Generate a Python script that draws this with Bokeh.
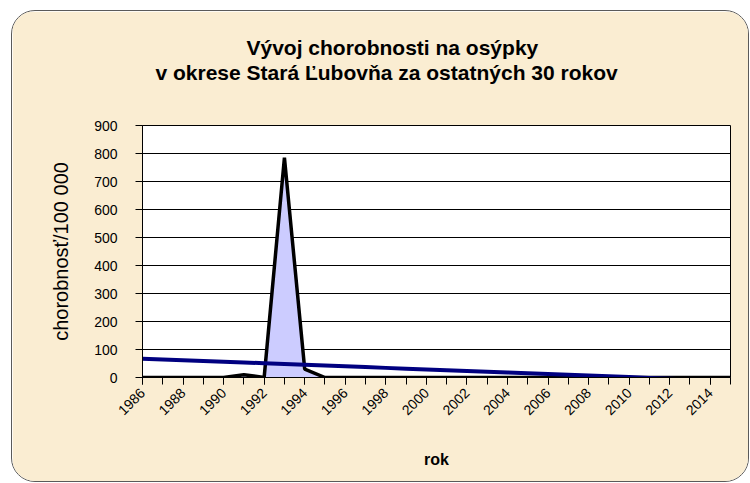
import numpy as np
from bokeh.plotting import figure
from bokeh.models import FixedTicker, Title, Range1d
from bokeh.embed import file_html
from bokeh.resources import INLINE

# ---- data ----
years = list(range(1986, 2016))
incidence = [0, 0, 0, 0, 0, 10, 0, 785, 30, 0,
             0, 0, 0, 0, 0, 0, 0, 0, 0, 0,
             0, 0, 0, 0, 0, 0, 0, 0, 0, 0]
x_tick_years = list(range(1986, 2016, 2))
y_ticks = list(range(0, 1000, 100))
title_lines = ["Vývoj chorobnosti na osýpky",
               "v okrese Stará Ľubovňa za ostatných 30 rokov"]
y_title = "chorobnosť/100 000"
x_title = "rok"

# linear trend (as the spreadsheet's trendline)
slope, intercept = np.polyfit(years, incidence, 1)
trend = [slope * y + intercept for y in years]

FONT = "Liberation Sans"
BG = "#faedd2"

p = figure(width=738, height=472, output_backend="svg", toolbar_location=None,
           x_range=Range1d(1986, 2015), y_range=Range1d(0, 900),
           min_border_left=130, min_border_right=20,
           min_border_top=114, min_border_bottom=106)
p.styles = {"border-radius": "24px", "border": "1.5px solid #5a5a5a",
            "overflow": "hidden", "margin": "10px 0px 0px 11px"}
p.border_fill_color = BG
p.background_fill_color = "white"
p.outline_line_color = "black"
p.outline_line_width = 1

# area + outline
p.varea(x=years, y1=[0] * len(years), y2=incidence, fill_color="#ccccff")
p.line(years, incidence, line_color="black", line_width=3.5)
# trend line
p.line(years, trend, line_color="#000080", line_width=4)

# grid
p.xgrid.grid_line_color = None
p.ygrid.grid_line_color = "black"
p.ygrid.grid_line_width = 1
p.ygrid.ticker = FixedTicker(ticks=y_ticks)

# x axis
xa = p.xaxis[0]
xa.ticker = FixedTicker(ticks=x_tick_years, minor_ticks=years)
xa.major_label_orientation = np.pi / 4
xa.axis_line_color = "black"
xa.major_tick_line_color = "black"
xa.minor_tick_line_color = "black"
xa.major_tick_out = 7
xa.major_tick_in = 0
xa.minor_tick_out = 7
xa.minor_tick_in = 0
xa.major_label_text_font = FONT
xa.major_label_text_font_size = "14px"
xa.major_label_text_color = "black"
xa.major_label_standoff = 6
xa.axis_label = x_title
xa.axis_label_text_font = FONT
xa.axis_label_text_font_style = "bold"
xa.axis_label_text_font_size = "16px"
xa.axis_label_text_color = "black"
xa.axis_label_standoff = 28

# y axis
ya = p.yaxis[0]
ya.ticker = FixedTicker(ticks=y_ticks)
ya.axis_line_color = "black"
ya.major_tick_line_color = "black"
ya.major_tick_out = 7
ya.major_tick_in = 0
ya.minor_tick_line_color = None
ya.major_label_text_font = FONT
ya.major_label_text_font_size = "14px"
ya.major_label_text_color = "black"
ya.major_label_standoff = 18
ya.axis_label = y_title
ya.axis_label_text_font = FONT
ya.axis_label_text_font_style = "normal"
ya.axis_label_text_font_size = "20px"
ya.axis_label_text_color = "black"
ya.axis_label_standoff = 19

# spacer between plot and title (nearest the plot)
p.add_layout(Title(text=" ", text_font=FONT, text_font_size="21px",
                   standoff=17), "above")
# title: two centred lines (line 2 added first = nearer the plot)
for txt, off in [(title_lines[1], 13), (title_lines[0], 104)]:
    p.add_layout(Title(text=txt, align="left", offset=off,
                       text_font=FONT, text_font_style="bold",
                       text_font_size="21px", text_color="black",
                       standoff=0), "above")

open("out.html", "w").write(file_html(p, INLINE))
